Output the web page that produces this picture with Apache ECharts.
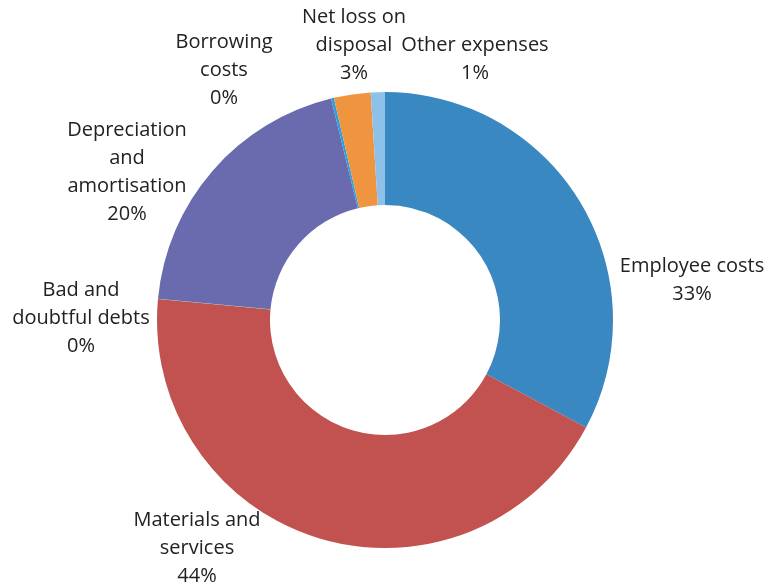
<!DOCTYPE html>
<html>
<head>
<meta charset="utf-8">
<script src="https://cdn.jsdelivr.net/npm/echarts@6/dist/echarts.min.js"></script>
<style>
  html, body { margin: 0; padding: 0; background: #ffffff; }
  #chart { width: 771px; height: 585px; }
</style>
</head>
<body>
<div id="chart"></div>
<script>
// Expense categories, in drawing order (clockwise from 12 o'clock)
const categories = [
  'Employee costs',
  'Materials and\nservices',
  'Bad and\ndoubtful debts',
  'Depreciation\nand\namortisation',
  'Borrowing\ncosts',
  'Net loss on\ndisposal',
  'Other expenses'
];

// Share of total expenses, per cent
const shares = [32.8, 43.62, 0.02, 19.7, 0.2, 2.6, 1.0];

// Slice colours
const sliceColors = ['#3a88c1', '#c1524f', '#9bbb59', '#6a6aae', '#2ba0dc', '#f0953f', '#8ec1ea'];

// Where each label block is centred, in pixels
const labelAnchors = [
  [692, 280],
  [197, 548],
  [81, 318],
  [127, 172],
  [224, 70],
  [354, 45],
  [475, 59]
];

const chart = echarts.init(document.getElementById('chart'), null, { renderer: 'canvas' });

chart.setOption({
  backgroundColor: '#ffffff',
  animation: false,
  series: [{
    type: 'pie',
    center: [385, 320],
    radius: [115, 228],
    startAngle: 90,
    clockwise: true,
    avoidLabelOverlap: false,
    data: categories.map((name, i) => ({
      name: name,
      value: shares[i],
      itemStyle: { color: sliceColors[i] }
    })),
    itemStyle: { borderWidth: 0 },
    label: {
      show: true,
      position: 'outside',
      formatter: p => p.name + '\n' + Math.round(p.percent) + '%',
      fontFamily: '"Open Sans", sans-serif',
      fontSize: 20,
      lineHeight: 28,
      color: '#222222',
      align: 'center'
    },
    labelLine: { show: false },
    labelLayout: p => ({
      x: labelAnchors[p.dataIndex][0],
      y: labelAnchors[p.dataIndex][1],
      align: 'center',
      verticalAlign: 'middle'
    }),
    emphasis: { disabled: true }
  }]
});
</script>
</body>
</html>
